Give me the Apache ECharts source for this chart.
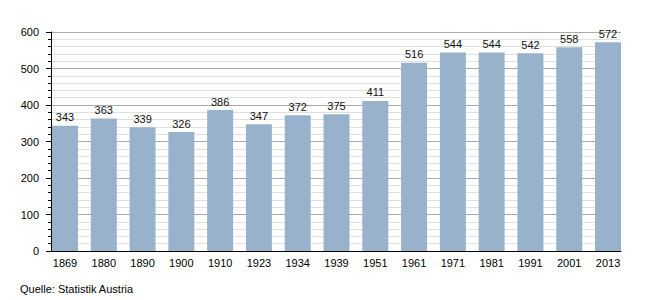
<!DOCTYPE html>
<html>
<head>
<meta charset="utf-8">
<script src="https://cdn.jsdelivr.net/npm/echarts@6/dist/echarts.min.js"></script>
<style>
  html, body { margin: 0; padding: 0; background: #fff; }
  #chart { width: 650px; height: 300px; }
</style>
</head>
<body>
<div id="chart"></div>
<script>
// Einwohner je Volkszählung
var years = ['1869', '1880', '1890', '1900', '1910', '1923', '1934', '1939', '1951', '1961', '1971', '1981', '1991', '2001', '2013'];
var population = [343, 363, 339, 326, 386, 347, 372, 375, 411, 516, 544, 544, 542, 558, 572];
var sourceNote = 'Quelle: Statistik Austria';

(function () {
  var fontStack = '"Liberation Sans", Arial, sans-serif';
  var barColor = '#98b2cc';
  var chart = echarts.init(document.getElementById('chart'), null, { renderer: 'svg' });

  chart.setOption({
    animation: false,
    // grid 0 holds the bars (bars flush with the axes), grid 1 draws the frame + gridlines
    grid: [
      { left: 45.6, right: 22.6, top: 32, bottom: 49 },
      { left: 51, right: 29, top: 32, bottom: 49 }
    ],
    xAxis: [{
      type: 'category',
      gridIndex: 0,
      data: years,
      axisLine: { show: false },
      axisTick: { show: false },
      axisLabel: { color: '#000', fontFamily: fontStack, fontSize: 11, margin: 6 }
    }, {
      type: 'category',
      gridIndex: 1,
      data: years,
      axisLine: { lineStyle: { color: '#000', width: 1 } },
      axisTick: { show: false },
      axisLabel: { show: false }
    }],
    yAxis: [{
      type: 'value',
      gridIndex: 0,
      min: 0,
      max: 600,
      show: false
    }, {
      type: 'value',
      gridIndex: 1,
      min: 0,
      max: 600,
      interval: 100,
      axisLine: { show: true, lineStyle: { color: '#000', width: 1 } },
      axisTick: { show: true, length: 5, lineStyle: { color: '#000' } },
      minorTick: { show: true, splitNumber: 5, length: 3, lineStyle: { color: '#000' } },
      splitLine: { show: true, lineStyle: { color: '#aaaaaa', width: 1 } },
      minorSplitLine: { show: true, lineStyle: { color: '#e0e0e0', width: 1 } },
      axisLabel: { color: '#000', fontFamily: fontStack, fontSize: 11, margin: 12 }
    }],
    series: [{
      type: 'bar',
      xAxisIndex: 0,
      yAxisIndex: 0,
      data: population,
      barCategoryGap: '33%',
      itemStyle: { color: barColor },
      label: {
        show: true,
        position: 'top',
        distance: 3,
        color: '#111',
        fontFamily: fontStack,
        fontSize: 11
      }
    }],
    graphic: [{
      type: 'text',
      left: 20,
      top: 283,
      style: {
        text: sourceNote,
        fill: '#000',
        font: '11px "Liberation Sans", Arial, sans-serif'
      }
    }]
  });
})();
</script>
</body>
</html>
